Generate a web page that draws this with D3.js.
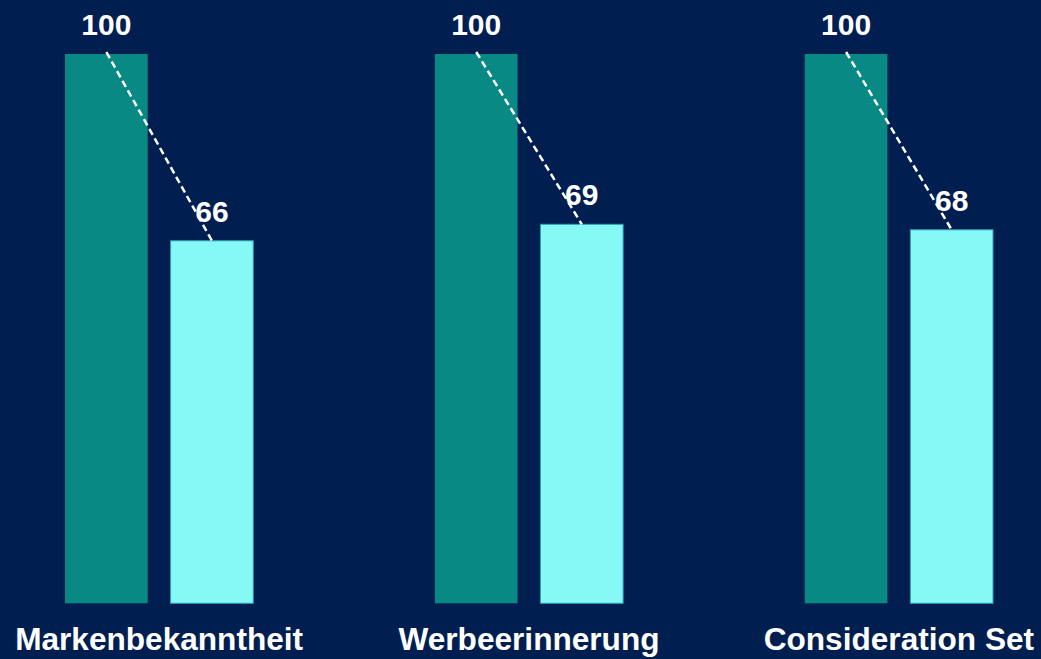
<!DOCTYPE html>
<html>
<head>
<meta charset="utf-8">
<script src="https://cdn.jsdelivr.net/npm/d3@7"></script>
<style>
  html, body { margin: 0; padding: 0; background: #001e4f; }
  svg { display: block; }
  text { font-family: "Liberation Sans", Arial, sans-serif; font-weight: bold; fill: #ffffff; }
</style>
</head>
<body>
<svg id="chart" width="1041" height="659"></svg>
<script>
// Kennzahlen je Kategorie: Basis (=100) und indexierter Wert
const categories = ["Markenbekanntheit", "Werbeerinnerung", "Consideration Set"];
const baseValues = [100, 100, 100];
const indexValues = [66, 69, 68];
const seriesKeys = ["basis", "index"];

const W = 1041, H = 659;
const svg = d3.select("#chart");

svg.append("rect").attr("width", W).attr("height", H).attr("fill", "#001e4f");

const x0 = d3.scaleBand()
  .domain(categories)
  .range([65, 993])
  .paddingInner(0.491)
  .paddingOuter(0);

const x1 = d3.scaleBand()
  .domain(seriesKeys)
  .range([0, x0.bandwidth()])
  .paddingInner(0.217)
  .paddingOuter(0);

const y = d3.scaleLinear().domain([0, 100]).range([603.3, 54]);

const colors = { basis: "#088984", index: "#86f8f6" };
const strokes = { basis: "none", index: "#2c9fb3" };

const rows = categories.map((c, i) => ({
  cat: c,
  vals: [
    { key: "basis", v: baseValues[i] },
    { key: "index", v: indexValues[i] }
  ]
}));

const groups = svg.selectAll("g.group")
  .data(rows)
  .join("g")
  .attr("class", "group")
  .attr("transform", d => `translate(${x0(d.cat)},0)`);

groups.selectAll("rect.bar")
  .data(d => d.vals)
  .join("rect")
  .attr("class", "bar")
  .attr("x", d => x1(d.key))
  .attr("y", d => y(d.v))
  .attr("width", x1.bandwidth())
  .attr("height", d => y(0) - y(d.v))
  .attr("fill", d => colors[d.key])
  .attr("stroke", d => strokes[d.key])
  .attr("stroke-width", 1);

// gestrichelte Verbindung zwischen Basis und Indexwert
groups.append("line")
  .attr("x1", d => x1("basis") + x1.bandwidth() / 2)
  .attr("y1", d => y(d.vals[0].v) - 2)
  .attr("x2", d => x1("index") + x1.bandwidth() / 2)
  .attr("y2", d => y(d.vals[1].v))
  .attr("stroke", "#ffffff")
  .attr("stroke-width", 2.5)
  .attr("stroke-dasharray", "7,4");

// Werte über den Balken
groups.selectAll("text.val")
  .data(d => d.vals)
  .join("text")
  .attr("class", "val")
  .attr("x", d => x1(d.key) + x1.bandwidth() / 2)
  .attr("y", d => y(d.v) - 19)
  .attr("text-anchor", "middle")
  .attr("font-size", 30)
  .text(d => d.v);

// Kategorienbeschriftung
groups.append("text")
  .attr("x", x0.bandwidth() / 2)
  .attr("y", 650)
  .attr("text-anchor", "middle")
  .attr("font-size", 31.6)
  .text(d => d.cat);
</script>
</body>
</html>
